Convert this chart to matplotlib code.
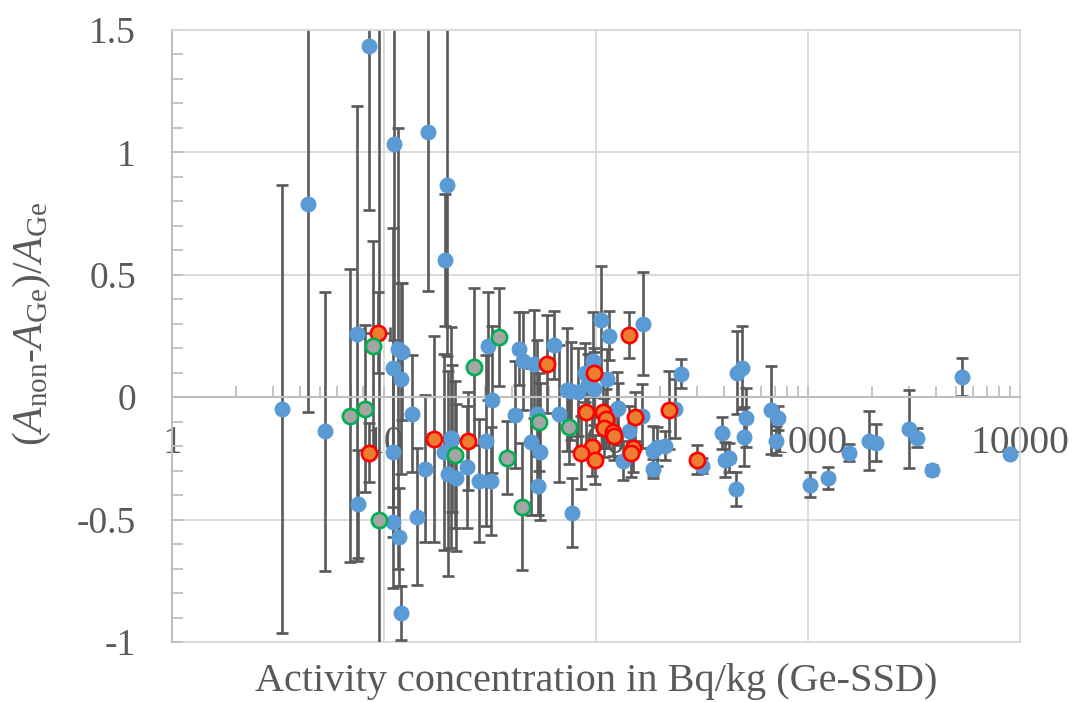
import matplotlib
matplotlib.use("Agg")
import matplotlib.pyplot as plt
from matplotlib.ticker import MultipleLocator, LogLocator, FixedLocator, FuncFormatter, NullFormatter

plt.rcParams['font.family'] = ['Liberation Serif', 'DejaVu Serif']
plt.rcParams['mathtext.fontset'] = 'custom'
plt.rcParams['mathtext.rm'] = 'Liberation Serif'
plt.rcParams['mathtext.it'] = 'Liberation Serif:italic'
plt.rcParams['axes.unicode_minus'] = False

# non-Ge vs Ge-SSD, general samples
blue_x = [3.30, 4.38, 5.27, 7.45, 7.54, 8.5, 11.15, 11.64, 12.16, 11.0,
          12.0, 13.56, 11.0, 11.0, 11.77, 14.3, 12.0, 15.6, 16.1, 19.2,
          19.4, 19.8, 20.0, 20.7, 20.9, 21.9, 24.6, 28.1, 30.3, 30.9,
          32.3, 32.0, 41.5, 43.3, 45.3, 49.3, 51.0, 53.2, 52.7, 54.4,
          63.4, 66.9, 73.0, 76.2, 82.2, 77.1, 88.7, 91.7, 96.8, 97.9,
          105.6, 115.2, 112.7, 125.6, 166.6, 164.8, 134.1, 185.7, 194, 211,
          185.7, 252, 316, 393, 406, 424, 457, 462, 489, 510,
          499, 669, 722, 707, 1022, 1242, 1560, 1940, 2094, 2995,
          3268, 3846, 5321, 8970, 236, 127.0, 143.2]
blue_y = [-0.05, 0.79, -0.14, 0.26, -0.435, 1.435, 1.035, 0.198, 0.186, 0.121,
          0.076, -0.067, -0.223, -0.509, -0.57, -0.488, -0.881, -0.292, 1.085, -0.223,
          0.562, 0.868, -0.312, -0.165, -0.170, -0.329, -0.284, -0.341, -0.178, 0.210,
          -0.010, -0.341, -0.071, 0.198, 0.149, -0.182, 0.137, -0.362, -0.067, -0.223,
          0.214, -0.067, 0.031, 0.027, 0.022, -0.472, 0.100, 0.055, 0.149, 0.035,
          0.317, 0.251, 0.076, -0.047, 0.300, -0.076, -0.259, -0.219, -0.202, -0.198,
          -0.292, 0.096, -0.280, -0.145, -0.255, -0.247, -0.374, 0.100, 0.121, -0.084,
          -0.161, -0.051, -0.084, -0.178, -0.357, -0.329, -0.227, -0.178, -0.186, -0.129,
          -0.165, -0.296, 0.083, -0.231, -0.047, -0.043, -0.137]
blue_err = [0.915, 0.85, 0.57, 0.93, 0.22, 0.67, 0.8, 0.9, 0.28, 0.57,
            0.39, 0.24, 0.35, 0.27, 0.2, 0.28, 0.11, 0.3, 0.65, 0.4,
            0.27, 0.7, 0.42, 0.45, 0.3, 0.3, 0.25, 0.25, 0.35, 0.22,
            0.3, 0.22, 0.22, 0.15, 0.2, 0.3, 0.22, 0.12, 0.3, 0.28,
            0.14, 0.28, 0.25, 0.2, 0.18, 0.14, 0.12, 0.12, 0.2, 0.15,
            0.22, 0.1, 0.12, 0.15, 0.21, 0.13, 0.08, 0.1, 0.08, 0.06,
            0.04, 0.06, 0.03, 0.065, 0.07, 0.06, 0.07, 0.17, 0.17, 0.12,
            0.12, 0.18, 0.05, 0.06, 0.05, 0.045, 0.035, 0.12, 0.075, 0.16,
            0.04, 0.02, 0.078, 0.01, 0.12, 0.1, 0.1]

# red-rimmed series
red_x = [9.37, 8.5, 17.2, 24.9, 58.7, 97.9, 143.2, 89.7, 107.9, 111.5,
         109.1, 120.2, 121.6, 152.8, 221, 95.8, 85.0, 98.9, 149.5, 146.2, 299]
red_y = [0.263, -0.227, -0.170, -0.178, 0.137, 0.100, 0.255, -0.059, -0.059, -0.088,
         -0.125, -0.141, -0.157, -0.080, -0.051, -0.202, -0.227, -0.255, -0.206, -0.227, -0.255]
red_err = [0.165, 0.12, 0.42, 0.2, 0.2, 0.1, 0.095, 0.15, 0.15, 0.12,
           0.12, 0.1, 0.1, 0.1, 0.16, 0.12, 0.15, 0.1, 0.1, 0.1, 0.06]
red_xerr = [1.3, 0, 1.0, 0, 0, 0, 0, 0, 0, 0,
            0, 0, 0, 0, 0, 0, 0, 0, 0, 0, 0]

# green-rimmed series
green_x = [6.92, 8.13, 8.87, 9.47, 21.6, 26.6, 34.9, 38.0, 44.8, 53.8, 74.6]
green_y = [-0.075, -0.047, 0.210, -0.500, -0.235, 0.125, 0.247, -0.247, -0.447, -0.100, -0.121]
green_err = [0.6, 0.34, 0.43, 2.1, 0.3, 0.32, 0.2, 0.15, 0.26, 0.2, 0.15]

xticks = [1, 10, 100, 1000, 10000]
xtick_labels = ['1', '10', '100', '1000', '10000']

text_color = '#595959'
axis_color = '#BFBFBF'
grid_color = '#D9D9D9'
bar_color = '#595959'

fig = plt.figure(figsize=(10.78, 7.02), dpi=100)
ax = fig.add_axes([172 / 1078, 60 / 702, 848 / 1078, 612 / 702])

ax.set_xscale('log')
ax.set_xlim(1, 10000)
ax.set_ylim(-1, 1.5)
ax.set_axisbelow(True)

bar_kw = dict(fmt='none', ecolor=bar_color, elinewidth=1.9, capsize=4.5, capthick=1.9)
ax.errorbar(blue_x, blue_y, yerr=blue_err, zorder=2, **bar_kw)
ax.errorbar(red_x, red_y, yerr=red_err, xerr=red_xerr, zorder=2.1, **bar_kw)
ax.errorbar(green_x, green_y, yerr=green_err, zorder=2.2, **bar_kw)

ax.plot(blue_x, blue_y, 'o', ms=11.5, mfc='#5B9BD5', mec='#5B9BD5', mew=0, zorder=3)
ax.plot(red_x, red_y, 'o', ms=11, mfc='#ED7D31', mec='#FF0000', mew=1.9, zorder=3.1)
ax.plot(green_x, green_y, 'o', ms=11, mfc='#A5A5A5', mec='#00B050', mew=1.9, zorder=3.2)

# axes frame: x axis crosses at y = 0
ax.spines['bottom'].set_position(('data', 0))
ax.spines['bottom'].set_color(axis_color)
ax.spines['bottom'].set_linewidth(1.5)
ax.spines['left'].set_color(axis_color)
ax.spines['left'].set_linewidth(1.5)
for side in ['top', 'right']:
    ax.spines[side].set_color(grid_color)
    ax.spines[side].set_linewidth(1.3)
ax.axhline(-1, color=grid_color, lw=1.3, clip_on=False, zorder=0)

ax.grid(True, which='major', color=grid_color, lw=1.3)

ax.xaxis.set_major_locator(FixedLocator(xticks))
ax.xaxis.set_major_formatter(FuncFormatter(lambda v, p: xtick_labels[xticks.index(int(round(v)))] if int(round(v)) in xticks else ''))
ax.xaxis.set_minor_locator(LogLocator(base=10, subs=range(2, 10)))
ax.xaxis.set_minor_formatter(NullFormatter())
ax.yaxis.set_major_locator(MultipleLocator(0.5))
ax.yaxis.set_minor_locator(MultipleLocator(0.1))
ax.yaxis.set_major_formatter(FuncFormatter(lambda v, p: '%g' % v))

ax.tick_params(axis='both', which='both', direction='in', length=8, width=1.3, color=axis_color,
               labelcolor=text_color)
ax.tick_params(axis='x', which='major', labelsize=28.5, pad=20)
ax.tick_params(axis='y', which='major', labelsize=27, pad=26)

ax.set_xlabel('Activity concentration in Bq/kg (Ge-SSD)', fontsize=29, color=text_color)
ax.xaxis.set_label_coords(0.5, -0.035)
ax.set_ylabel(r'$(\mathit{A}_{\rm non}$-$\mathit{A}_{\rm Ge})/\mathit{A}_{\rm Ge}$', fontsize=30, color=text_color)
ax.yaxis.set_label_coords(-0.14, 0.52)

fig.savefig('out.png', dpi=100)
